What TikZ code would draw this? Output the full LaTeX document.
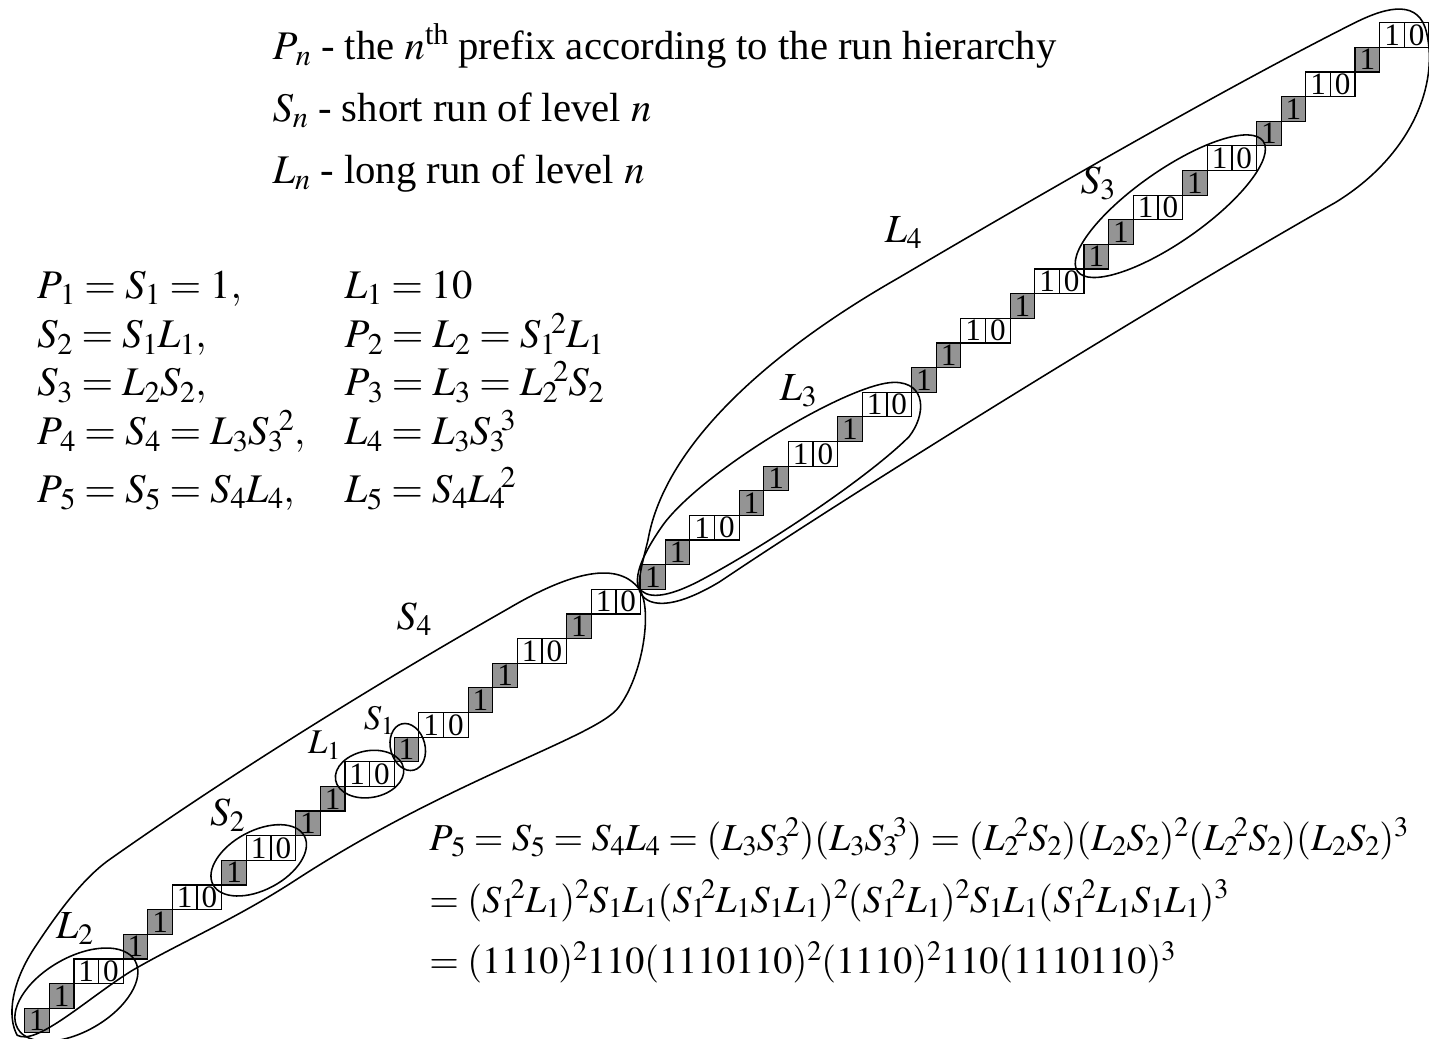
\documentclass[tikz,border=0pt]{standalone}
\usepackage{mathptmx}
\usepackage{fontspec}
\setmainfont{Liberation Serif}
\definecolor{cellgray}{gray}{0.58}
\newcommand{\Pk}[1]{P_{\kern2pt#1}}
\newcommand{\pw}[1]{{}^{\kern-2.5pt#1}}
\thickmuskip=4mu plus 2mu
\scriptspace=0pt

\begin{document}
\begin{tikzpicture}[
    x=0.5cm, y=0.5cm,
    onecell/.style={draw, line width=0.7pt, minimum size=0.5cm, inner sep=0pt,
        font=\fontsize{18}{18}\selectfont},
    onebox/.style={onecell, fill=cellgray},
    runloop/.style={black, line width=0.9pt},
    runlabel/.style={font=\fontsize{23}{28}\selectfont, inner sep=0pt},
    smalllabel/.style={font=\fontsize{20}{24}\selectfont, inner sep=0pt},
    legtext/.style={font=\fontsize{23.5}{28}\selectfont, anchor=base west, inner sep=0pt},
    eqtext/.style={font=\fontsize{22}{28}\selectfont, anchor=base west, inner sep=0pt},
]

\useasboundingbox (-1.0, -0.25) rectangle (57.0, 41.92);

% ── Staircase: gray 1 cells ─────────────────────────────────
\foreach \x/\y [count=\n] in {0/0, 1/1, 4/3, 5/4, 8/6, 11/8, 12/9, 15/11, 18/13,
        19/14, 22/16, 25/18, 26/19, 29/21, 30/22, 33/24, 36/26, 37/27, 40/29,
        43/31, 44/32, 47/34, 50/36, 51/37, 54/39}
    \node[onebox] (g\n) at (\x+0.5, \y+0.5) {1};

% ── Staircase: white 1 0 pairs ──────────────────────────────
\foreach \x/\y [count=\n] in {2/2, 6/5, 9/7, 13/10, 16/12, 20/15, 23/17, 27/20,
        31/23, 34/25, 38/28, 41/30, 45/33, 48/35, 52/38, 55/40} {
    \node[onecell] (wa\n) at (\x+0.5, \y+0.5) {1};
    \node[onecell] (wb\n) at (\x+1.5, \y+0.5) {0};
}

% ── Run loops ───────────────────────────────────────────────
% S4: first half, pinched at the joint (25,18)
\draw[runloop] (-0.3,-0.1)
    .. controls (-0.7,0.6) and (-0.6,2.0) .. (0.5,3.6)
    .. controls (1.3,4.8) and (2.3,6.2) .. (3.4,7.0)
    .. controls (8.5,10.6) and (14.5,14.3) .. (19.6,17.2)
    .. controls (21.8,18.5) and (24.0,19.3) .. (24.95,18.0)
    .. controls (25.5,17.2) and (25.1,14.5) .. (24.1,13.2)
    .. controls (23.2,12.0) and (17.3,10.3) .. (11.0,6.2)
    .. controls (8.6,4.64) and (6.3,3.65) .. (4.4,2.55)
    .. controls (2.6,1.45) and (0.5,-0.55) .. cycle;

% L4: second half, from the joint to the top end
\draw[runloop] (24.95,17.95)
    .. controls (25.2,17.3) and (26.2,17.1) .. (28.2,18.3)
    .. controls (34.0,22.2) and (46.3,29.8) .. (53.2,33.7)
    .. controls (56.3,35.6) and (57.4,38.5) .. (56.9,40.6)
    .. controls (56.6,41.9) and (55.4,41.7) .. (54.0,41.0)
    .. controls (49.0,38.5) and (41.0,33.9) .. (35.4,30.6)
    .. controls (30.5,27.8) and (26.0,24.0) .. (25.3,20.0)
    .. controls (25.05,19.0) and (24.9,18.4) .. cycle;

% L3: first part of L4
\draw[runloop] (24.9,18.1)
    .. controls (25.2,17.6) and (26.0,17.6) .. (27.5,18.4)
    .. controls (30.3,19.9) and (34.3,22.6) .. (35.9,24.2)
    .. controls (36.6,25.1) and (36.6,26.4) .. (35.3,26.4)
    .. controls (33.5,26.4) and (27.5,22.8) .. (25.9,20.6)
    .. controls (25.2,19.6) and (24.75,18.7) .. cycle;

% smaller runs as tilted ellipses
\draw[runloop, rotate around={35:(46.5,33.55)}] (46.5,33.55) ellipse (4.6 and 1.45);
\draw[runloop, rotate around={30:(2.1,1.55)}] (2.1,1.55) ellipse (2.75 and 1.5);
\draw[runloop, rotate around={28:(9.5,7.0)}] (9.5,7.0) ellipse (2.1 and 1.2);
\draw[runloop, rotate around={10:(14.0,10.5)}] (14.0,10.5) ellipse (1.4 and 0.95);
\draw[runloop, rotate around={15:(15.55,11.6)}] (15.55,11.6) ellipse (0.7 and 0.97);

% ── Run labels ──────────────────────────────────────────────
\node[runlabel] (lblLfour) at (35.66, 32.46) {$L_4$};
\node[runlabel] (lblSfour) at (15.8, 16.8) {$S_4$};
\node[runlabel] (lblLthree) at (31.4, 26.05) {$L_3$};
\node[runlabel] (lblSthree) at (43.56, 34.48) {$S_3$};
\node[runlabel] (lblStwo) at (8.23, 8.83) {$S_2$};
\node[runlabel] (lblLtwo) at (2.03, 4.25) {$L_2$};
\node[smalllabel] (lblLone) at (12.16, 11.67) {$L_1$};
\node[smalllabel] (lblSone) at (14.38, 12.68) {$S_1$};

% ── Legend ──────────────────────────────────────────────────
\node[legtext] (legP) at (10.05, 39.5) {$\Pk{n}$ - the $n$\textsuperscript{th} prefix according to the run hierarchy};
\node[legtext] (legS) at (10.05, 37.0) {$S_n$ - short run of level $n$};
\node[legtext] (legL) at (10.05, 34.48) {$L_n$ - long run of level $n$};

% ── Definitions ─────────────────────────────────────────────
\foreach \y/\lhs/\rhs [count=\k] in {
        29.82/{\Pk1 = S_1 = 1,}/{L_1 = 10},
        27.8/{S_2 = S_1L_1,}/{\Pk2 = L_2 = S_1\pw2L_1},
        25.85/{S_3 = L_2S_2,}/{\Pk3 = L_3 = L_2\pw2S_2},
        23.86/{\Pk4 = S_4 = L_3S_3\pw2,}/{L_4 = L_3S_3\pw3},
        21.52/{\Pk5 = S_5 = S_4L_4,}/{L_5 = S_4L_4\pw2}} {
    \node[legtext] (defl\k) at (0.49, \y) {$\lhs$};
    \node[legtext] (defr\k) at (12.97, \y) {$\rhs$};
}

% ── Expansion of P5 ─────────────────────────────────────────
\node[eqtext] (expA) at (16.41, 7.41)
    {$\Pk5 = S_5 = S_4L_4 = (L_3S_3\pw2)(L_3S_3\pw3) = (L_2\pw2S_2)(L_2S_2)^2(L_2\pw2S_2)(L_2S_2)^3$};
\node[eqtext] (expB) at (16.41, 4.9)
    {$= (S_1\pw2L_1)^2S_1L_1(S_1\pw2L_1S_1L_1)^2(S_1\pw2L_1)^2S_1L_1(S_1\pw2L_1S_1L_1)^3$};
\node[eqtext] (expC) at (16.41, 2.39)
    {$= (1110)^2110(1110110)^2(1110)^2110(1110110)^3$};

\end{tikzpicture}
\end{document}
